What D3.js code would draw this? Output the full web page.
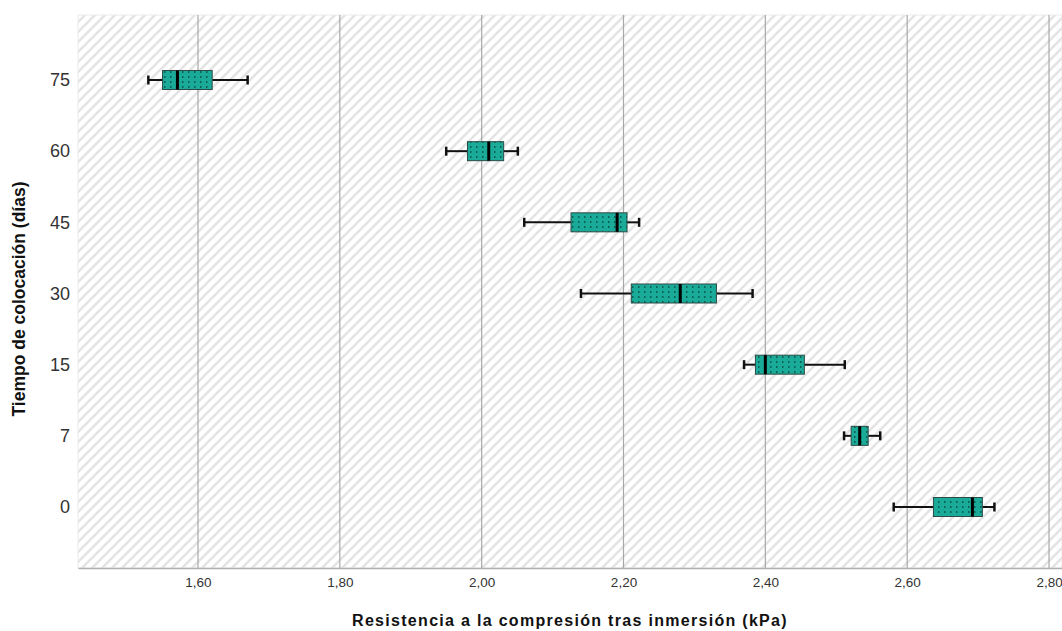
<!DOCTYPE html>
<html><head><meta charset="utf-8">
<script src="https://cdn.jsdelivr.net/npm/d3@7"></script>
<style>body{margin:0;background:#fff;} svg{display:block;}</style>
</head><body>
<svg id="c" width="1062" height="631"></svg>
<script>
const categories = ["75","60","45","30","15","7","0"];
const whiskerLow  = [1.530, 1.950, 2.060, 2.140, 2.370, 2.511, 2.581];
const q1          = [1.550, 1.980, 2.126, 2.211, 2.386, 2.521, 2.637];
const medians     = [1.571, 2.010, 2.191, 2.280, 2.400, 2.533, 2.692];
const q3          = [1.620, 2.031, 2.205, 2.331, 2.455, 2.545, 2.706];
const whiskerHigh = [1.670, 2.051, 2.222, 2.382, 2.512, 2.562, 2.723];
const xTicks = [1.6, 1.8, 2.0, 2.2, 2.4, 2.6, 2.8];

const svg = d3.select("#c");
const L = 78, R = 1062, T = 15, B = 568;
const x = d3.scaleLinear().domain([1.4308, 2.8183]).range([L, R]);
const y = d3.scalePoint().domain(categories).range([80, 507]);

const defs = svg.append("defs");
const hatch = defs.append("pattern").attr("id","hatch").attr("patternUnits","userSpaceOnUse")
  .attr("width",10).attr("height",10);
hatch.append("rect").attr("width",10).attr("height",10).attr("fill","#fff");
hatch.append("path").attr("d","M-2,2 l4,-4 M0,10 l10,-10 M8,12 l4,-4")
  .attr("stroke","#e4e4e4").attr("stroke-width",2.6);
const dots = defs.append("pattern").attr("id","dots").attr("patternUnits","userSpaceOnUse")
  .attr("width",6).attr("height",5);
dots.append("rect").attr("width",6).attr("height",5).attr("fill","#1aaa98");
dots.append("rect").attr("x",2).attr("y",1).attr("width",1.5).attr("height",2).attr("fill","#0b6157");

svg.append("rect").attr("x",L).attr("y",T).attr("width",R-L).attr("height",B-T)
  .attr("fill","url(#hatch)").attr("stroke","#ececec");

// gridlines
svg.append("g").selectAll("line").data(xTicks).join("line")
  .attr("x1",d=>x(d)).attr("x2",d=>x(d)).attr("y1",T).attr("y2",B)
  .attr("stroke","#a8a8a8").attr("stroke-width",1.2);

// x axis
const xAxis = d3.axisBottom(x).tickValues(xTicks).tickSize(0).tickPadding(9)
  .tickFormat(d=>d3.format(".2f")(d).replace(".",","));
const gx = svg.append("g").attr("transform",`translate(0,${B})`).call(xAxis);
gx.select(".domain").attr("stroke","#b0b0b0").attr("stroke-width",1.5);
gx.selectAll("text").attr("font-family","Liberation Sans, Arial, sans-serif").attr("font-size",13.5).attr("fill","#333");

// y axis
const yAxis = d3.axisLeft(y).tickSize(0).tickPadding(8);
const gy = svg.append("g").attr("transform",`translate(${L},0)`).call(yAxis);
gy.select(".domain").remove();
gy.selectAll("text").attr("font-family","Liberation Sans, Arial, sans-serif").attr("font-size",18).attr("fill","#333");

const boxH = 19, capH = 9;
const g = svg.append("g");
categories.forEach((c,i)=>{
  const cy = y(c);
  g.append("line").attr("x1",x(whiskerLow[i])).attr("x2",x(q1[i])).attr("y1",cy).attr("y2",cy).attr("stroke","#111").attr("stroke-width",2);
  g.append("line").attr("x1",x(q3[i])).attr("x2",x(whiskerHigh[i])).attr("y1",cy).attr("y2",cy).attr("stroke","#111").attr("stroke-width",2);
  [whiskerLow[i], whiskerHigh[i]].forEach(v=>{
    g.append("line").attr("x1",x(v)).attr("x2",x(v)).attr("y1",cy-capH/2).attr("y2",cy+capH/2).attr("stroke","#111").attr("stroke-width",2.5);
  });
  g.append("rect").attr("x",x(q1[i])).attr("y",cy-boxH/2).attr("width",x(q3[i])-x(q1[i])).attr("height",boxH)
    .attr("fill","url(#dots)").attr("stroke","#2d4a46").attr("stroke-width",1);
  g.append("line").attr("x1",x(medians[i])).attr("x2",x(medians[i])).attr("y1",cy-boxH/2).attr("y2",cy+boxH/2)
    .attr("stroke","#000").attr("stroke-width",3);
});

svg.append("text").attr("x",570).attr("y",626).attr("text-anchor","middle")
  .attr("font-family","Liberation Sans, Arial, sans-serif").attr("font-weight","bold").attr("font-size",16)
  .attr("letter-spacing",1.3).attr("fill","#111")
  .text("Resistencia a la compresión tras inmersión (kPa)");
svg.append("text").attr("transform","translate(25,299) rotate(-90)").attr("text-anchor","middle")
  .attr("font-family","Liberation Sans, Arial, sans-serif").attr("font-weight","bold").attr("font-size",17.5).attr("fill","#111")
  .text("Tiempo de colocación (días)");
</script>
</body></html>
